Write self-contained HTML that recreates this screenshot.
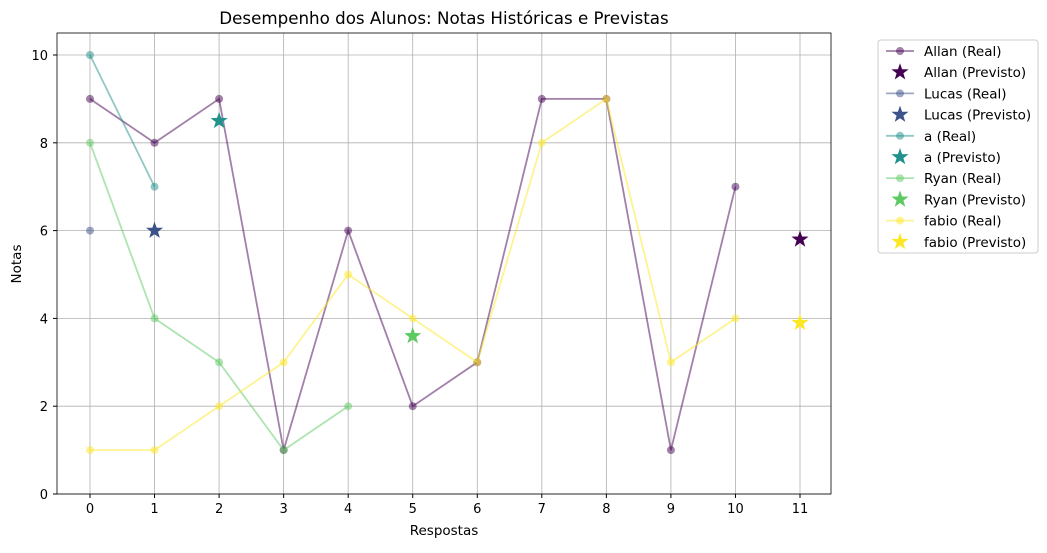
<!DOCTYPE html>
<html><head><meta charset="utf-8"><style>
body{margin:0;background:#fff;font-family:"Liberation Sans","DejaVu Sans",sans-serif;}
svg text{font-family:"DejaVu Sans","Liberation Sans",sans-serif;}
</style></head><body>
<svg id="c" width="1047" height="548"></svg>
<script>
const categories=[0,1,2,3,4,5,6,7,8,9,10,11];
const yTicks=[0,2,4,6,8,10];
const names=["Allan","Lucas","a","Ryan","fabio"];
const colors=["#440154","#3b528b","#21918c","#5ec962","#fde725"];
const allanReal=[9,8,9,1,6,2,3,9,9,1,7];
const lucasReal=[6];
const aReal=[10,7];
const ryanReal=[8,4,3,1,2];
const fabioReal=[1,1,2,3,5,4,3,8,9,3,4];
const predX=[11,1,2,5,11];
const predY=[5.8,6,8.5,3.6,3.9];
const reals=[allanReal,lucasReal,aReal,ryanReal,fabioReal];
const NS="http://www.w3.org/2000/svg";
const svg=document.getElementById('c');
const L=57,R=831,T=33,B=494;
const xs=v=>90+(v-0)*(800-90)/11;
const ys=v=>494-v*(494-55)/10;
function mk(t,a,p){const e=document.createElementNS(NS,t);for(const k in a)e.setAttribute(k,a[k]);(p||svg).appendChild(e);return e;}
const grid=mk('g',{});


categories.forEach(c=>{mk('line',{x1:xs(c),x2:xs(c),y1:T,y2:B,stroke:'#b0b0b0','stroke-width':0.8},grid);
 mk('line',{x1:xs(c),x2:xs(c),y1:B,y2:B+4,stroke:'#000'});
 const t=mk('text',{x:xs(c),y:B+19,'text-anchor':'middle','font-size':13});t.textContent=c;
 });
yTicks.forEach(v=>{mk('line',{x1:L,x2:R,y1:ys(v),y2:ys(v),stroke:'#b0b0b0','stroke-width':0.8},grid);
 mk('line',{x1:L-4,x2:L,y1:ys(v),y2:ys(v),stroke:'#000'});
 const t=mk('text',{x:L-9,y:ys(v)+5,'text-anchor':'end','font-size':13});t.textContent=v;
 });
function star(cx,cy,r){let p=[];for(let i=0;i<10;i++){const a=-Math.PI/2+i*Math.PI/5;const rr=i%2?r*0.4:r;p.push((cx+rr*Math.cos(a)).toFixed(1)+','+(cy+rr*Math.sin(a)).toFixed(1));}return p.join(' ');}
reals.forEach((d,i)=>{const g=mk('g',{});
 
 mk('polyline',{points:d.map((v,j)=>xs(j)+','+ys(v)).join(' '),fill:'none',stroke:colors[i],'stroke-width':1.8,'stroke-opacity':0.5},g);
 d.forEach((v,j)=>mk('circle',{cx:xs(j),cy:ys(v),r:4,fill:colors[i],'fill-opacity':0.5},g));});
predX.forEach((x,i)=>{const s=mk('polygon',{points:star(xs(x),ys(predY[i]),9),fill:colors[i]});
 });
mk('rect',{x:L,y:T,width:R-L,height:B-T,fill:'none',stroke:'#000','stroke-width':0.8});
let t=mk('text',{x:444,y:24,'text-anchor':'middle','font-size':16.7});t.textContent='Desempenho dos Alunos: Notas Históricas e Previstas';

t=mk('text',{x:444,y:535,'text-anchor':'middle','font-size':13.5});t.textContent='Respostas';

t=mk('text',{x:21,y:264,'text-anchor':'middle','font-size':13.5,transform:'rotate(-90 21 264)'});t.textContent='Notas';

const lg=mk('g',{});
mk('rect',{x:878,y:40,width:160,height:213,rx:3,fill:'#fff',stroke:'#ccc'},lg);
names.forEach((n,i)=>{[0,1].forEach(k=>{const y=51+(i*2+k)*21.2;const e=mk('g',{},lg);
 
 if(k==0){mk('line',{x1:886,x2:914,y1:y,y2:y,stroke:colors[i],'stroke-opacity':0.5,'stroke-width':1.8},e);mk('circle',{cx:900,cy:y,r:4,fill:colors[i],'fill-opacity':0.5},e);}
 else mk('polygon',{points:star(900,y,9),fill:colors[i]},e);
 const tt=mk('text',{x:924,y:y+5,'font-size':13.5},e);tt.textContent=n+(k?' (Previsto)':' (Real)');});});
</script>
</body></html>
